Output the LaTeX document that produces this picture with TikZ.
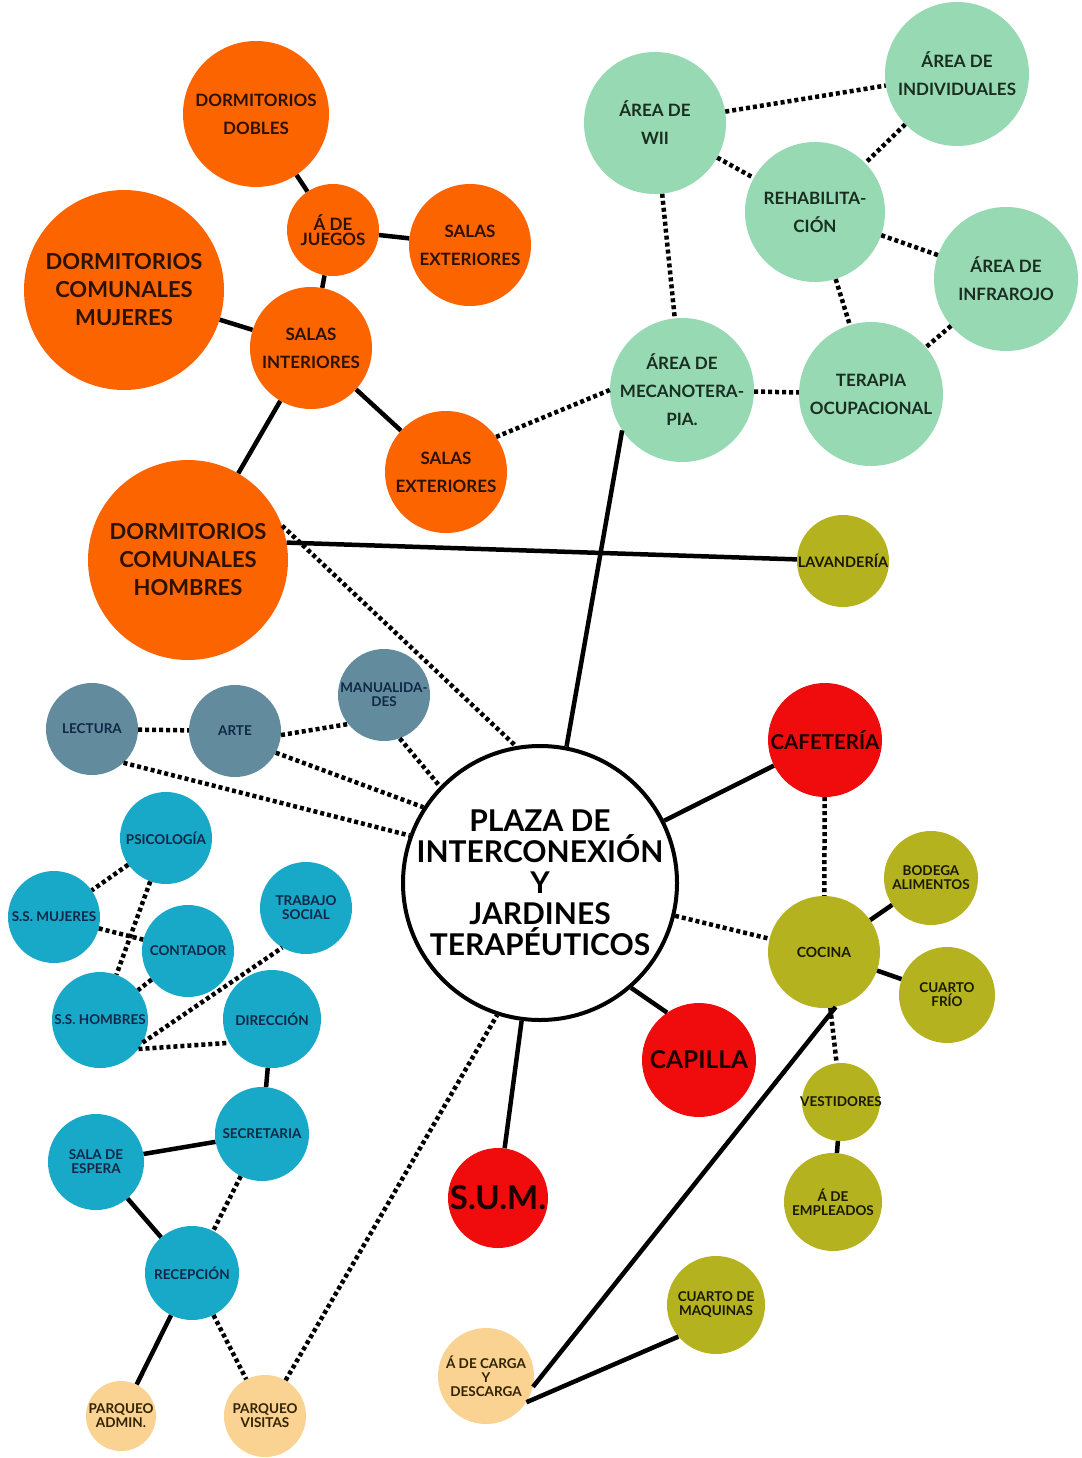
\documentclass[tikz,border=0pt]{standalone}
\usepackage{fontspec}
\setmainfont{Lato}
\definecolor{cOr}{RGB}{252,100,0}
\definecolor{cGr}{RGB}{150,217,178}
\definecolor{cOl}{RGB}{180,178,30}
\definecolor{cRd}{RGB}{240,12,12}
\definecolor{cGy}{RGB}{98,139,157}
\definecolor{cCy}{RGB}{24,168,200}
\definecolor{cPe}{RGB}{250,210,146}
\definecolor{tOr}{RGB}{45,18,0}
\definecolor{tGr}{RGB}{25,45,32}
\definecolor{tNv}{RGB}{16,40,70}
\definecolor{tDk}{RGB}{25,25,0}
\definecolor{tRd}{RGB}{30,0,0}
\definecolor{tPe}{RGB}{50,35,0}
\tikzset{
  bub/.style={circle,inner sep=0pt,align=center,font=\bfseries\fontsize{17}{28}\selectfont},
  orng/.style={bub,fill=cOr,text=tOr},
  grn/.style={bub,fill=cGr,text=tGr},
  olv/.style={bub,fill=cOl,text=tDk,font=\bfseries\fontsize{13.5}{14}\selectfont},
  redb/.style={bub,fill=cRd,text=tRd},
  gry/.style={bub,fill=cGy,text=tNv,font=\bfseries\fontsize{13.5}{14}\selectfont},
  cyb/.style={bub,fill=cCy,text=tNv,font=\bfseries\fontsize{13.5}{14}\selectfont},
  pch/.style={bub,fill=cPe,text=tPe,font=\bfseries\fontsize{13.5}{14}\selectfont},
  link/.style={line width=4.5pt},
  dlink/.style={line width=4.5pt,dash pattern=on 4pt off 3pt}
}
\begin{document}
\begin{tikzpicture}[x=1pt,y=-1pt]
\useasboundingbox[fill=white] (0,0) rectangle (1081,1458);
% orange
\node[orng,minimum size=146pt] (dobles) at (256,114) {DORMITORIOS\\DOBLES};
\node[orng,minimum size=92pt,inner sep=-4pt,font=\bfseries\fontsize{17}{15}\selectfont] (juegos) at (333,230) {Á DE\\JUEGOS};
\node[orng,minimum size=122pt] (salext1) at (470,245) {SALAS\\EXTERIORES};
\node[orng,minimum size=200pt,font=\bfseries\fontsize{22}{28}\selectfont] (mujeres) at (124,290) {DORMITORIOS\\COMUNALES\\MUJERES};
\node[orng,minimum size=122pt] (salint) at (311,348) {SALAS\\INTERIORES};
\node[orng,minimum size=122pt] (salext2) at (446,472) {SALAS\\EXTERIORES};
\node[orng,minimum size=200pt,font=\bfseries\fontsize{22}{28}\selectfont] (hombres) at (188,560) {DORMITORIOS\\COMUNALES\\HOMBRES};
% green
\node[grn,minimum size=142pt] (wii) at (655,123) {ÁREA DE\\WII};
\node[grn,minimum size=144pt] (indiv) at (957,74) {ÁREA DE\\INDIVIDUALES};
\node[grn,minimum size=140pt] (rehab) at (815,212) {REHABILITA-\\CIÓN};
\node[grn,minimum size=144pt] (infra) at (1006,279) {ÁREA DE\\INFRAROJO};
\node[grn,minimum size=144pt,inner sep=-4pt] (mecano) at (682,390) {ÁREA DE\\MECANOTERA-\\PIA.};
\node[grn,minimum size=144pt] (terapia) at (871,394) {TERAPIA\\OCUPACIONAL};
% plaza
\node[circle,draw=black,line width=4pt,fill=white,minimum size=274pt,inner sep=-25pt,align=center,text=black,font=\bfseries\fontsize{30}{31}\selectfont] (plaza) at (540,883) {PLAZA DE\\INTERCONEXIÓN\\Y\\JARDINES\\TERAPÉUTICOS};
% olive
\node[olv,minimum size=92pt,inner sep=-4pt,font=\bfseries\fontsize{14.5}{14}\selectfont] (lav) at (843,561) {LAVANDERÍA};
\node[olv,minimum size=112pt,font=\bfseries\fontsize{14}{14}\selectfont] (cocina) at (824,952) {COCINA};
\node[olv,minimum size=94pt] (bodega) at (931,878) {BODEGA\\ALIMENTOS};
\node[olv,minimum size=96pt] (frio) at (947,995) {CUARTO\\FRÍO};
\node[olv,minimum size=78pt,inner sep=-6pt] (vest) at (841,1102) {VESTIDORES};
\node[olv,minimum size=98pt] (empl) at (833,1202) {Á DE\\EMPLEADOS};
\node[olv,minimum size=98pt] (maq) at (716,1305) {CUARTO DE\\MAQUINAS};
% red
\node[redb,minimum size=114pt,font=\bfseries\fontsize{20.5}{22}\selectfont] (cafe) at (825,740) {CAFETERÍA};
\node[redb,minimum size=114pt,font=\bfseries\fontsize{24.5}{26}\selectfont] (capilla) at (699,1060) {CAPILLA};
\node[redb,minimum size=100pt,inner sep=-6pt,font=\bfseries\fontsize{33}{34}\selectfont] (sum) at (498,1198) {S.U.M.};
% gray
\node[gry,minimum size=92pt] (lectura) at (92,729) {LECTURA};
\node[gry,minimum size=92pt] (arte) at (235,731) {ARTE};
\node[gry,minimum size=92pt,inner sep=-4pt] (manual) at (384,695) {MANUALIDA-\\DES};
% cyan
\node[cyb,minimum size=92pt] (psico) at (166,838) {PSICOLOGÍA};
\node[cyb,minimum size=92pt,inner sep=-4pt] (ssm) at (54,917) {S.S. MUJERES};
\node[cyb,minimum size=92pt] (contador) at (188,951) {CONTADOR};
\node[cyb,minimum size=92pt] (trabajo) at (306,908) {TRABAJO\\SOCIAL};
\node[cyb,minimum size=96pt,inner sep=-4pt] (ssh) at (100,1020) {S.S. HOMBRES};
\node[cyb,minimum size=98pt] (direccion) at (272,1019) {DIRECCIÓN};
\node[cyb,minimum size=94pt] (secret) at (262,1134) {SECRETARIA};
\node[cyb,minimum size=96pt] (espera) at (96,1162) {SALA DE\\ESPERA};
\node[cyb,minimum size=94pt] (recep) at (192,1273) {RECEPCIÓN};
% peach
\node[pch,minimum size=96pt] (carga) at (486,1376) {Á DE CARGA\\Y\\DESCARGA};
\node[pch,minimum size=70pt,inner sep=-6pt] (admin) at (121,1416) {PARQUEO\\ADMIN.};
\node[pch,minimum size=82pt] (visitas) at (265,1416) {PARQUEO\\VISITAS};
% solid links
\draw[link] (dobles) -- (juegos);
\draw[link] (juegos) -- (salext1);
\draw[link] (juegos) -- (salint);
\draw[link] (mujeres) -- (salint);
\draw[link] (salint) -- (salext2);
\draw[link] (salint) -- (hombres);
\draw[link] (hombres.10) -- (lav.178);
\draw[link] (mecano.214) -- (plaza.79);
\draw[link] (plaza) -- (cafe);
\draw[link] (plaza.-49) -- (capilla.124);
\draw[link] (plaza) -- (sum);
\draw[link] (cocina) -- (bodega);
\draw[link] (cocina) -- (frio);
\draw[link] (vest) -- (empl);
\draw[link] (cocina.-78) -- (carga.-13);
\draw[link] (carga.-33) -- (maq.220);
\draw[link] (direccion) -- (secret);
\draw[link] (secret) -- (espera);
\draw[link] (espera) -- (recep);
\draw[link] (recep) -- (admin);
% dotted links
\draw[dlink] (salext2.35) -- (mecano.west);
\draw[dlink] (hombres.20) -- (plaza.100);
\draw[dlink] (wii) -- (indiv);
\draw[dlink] (wii) -- (rehab);
\draw[dlink] (indiv) -- (rehab);
\draw[dlink] (rehab) -- (infra);
\draw[dlink] (wii) -- (mecano);
\draw[dlink] (rehab) -- (terapia);
\draw[dlink] (infra) -- (terapia);
\draw[dlink] (mecano) -- (terapia);
\draw[dlink] (lectura) -- (arte);
\draw[dlink] (arte.-5) -- (manual.219);
\draw[dlink] (arte.-28) -- (plaza.147);
\draw[dlink] (manual.-70) -- (plaza.136);
\draw[dlink] (lectura.-47) -- (plaza.160);
\draw[dlink] (psico) -- (ssm);
\draw[dlink] (psico) -- (ssh);
\draw[dlink] (ssm) -- (contador);
\draw[dlink] (contador) -- (ssh);
\draw[dlink] (ssh.-28) -- (trabajo.239);
\draw[dlink] (ssh.-37) -- (direccion.209);
\draw[dlink] (secret) -- (recep);
\draw[dlink] (recep) -- (visitas);
\draw[dlink] (visitas.60) -- (plaza.252);
\draw[dlink] (plaza) -- (cocina);
\draw[dlink] (cafe) -- (cocina);
\draw[dlink] (cocina) -- (vest);
\end{tikzpicture}
\end{document}
